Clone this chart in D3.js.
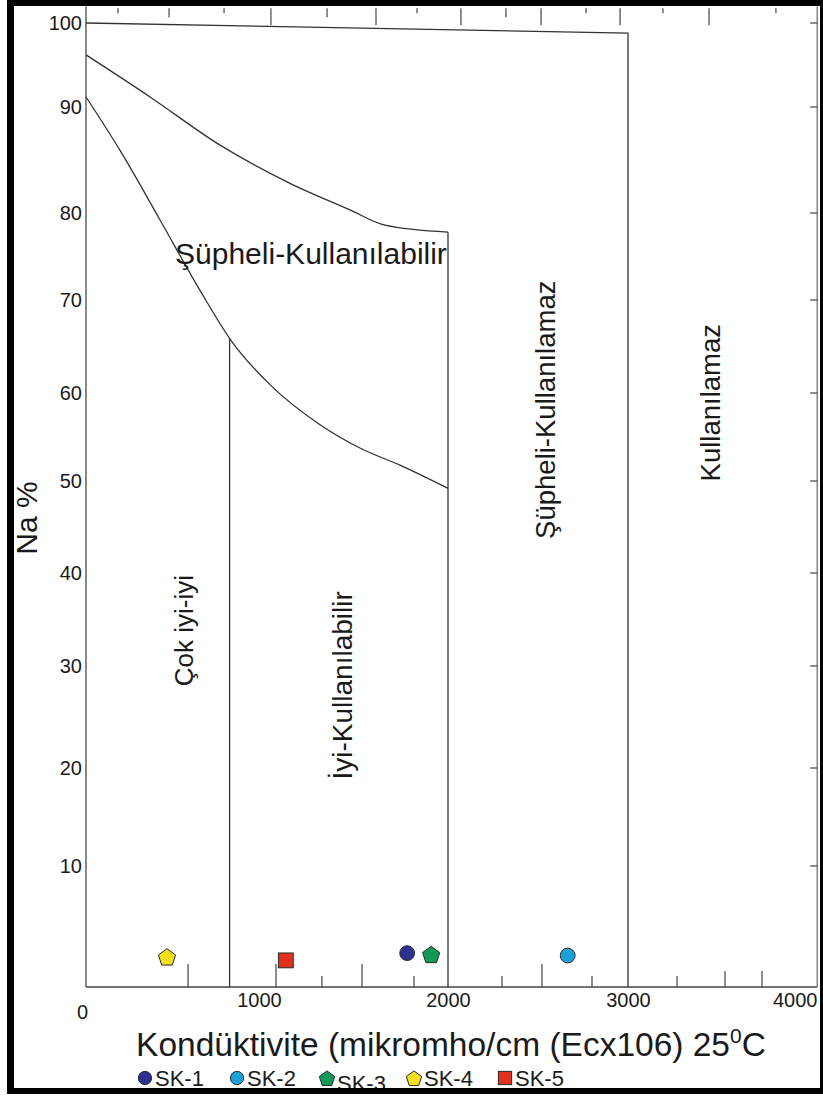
<!DOCTYPE html>
<html>
<head>
<meta charset="utf-8">
<script src="https://cdn.jsdelivr.net/npm/d3@7"></script>
<style>
  html, body { margin: 0; padding: 0; background: #fff; }
  svg { display: block; }
  text { font-family: "Liberation Sans", Arial, sans-serif; fill: #1a1a1a; }
</style>
</head>
<body>
<svg id="chart" width="823" height="1097"></svg>
<script>
// ---------------- DATA ----------------
const samples = ["SK-1", "SK-2", "SK-3", "SK-4", "SK-5"];
const conductivity = [1784, 2665, 1911, 468, 1142];   // mikromho/cm
const naPercent = [2.8, 2.6, 2.7, 2.5, 2.2];           // Na %
const sampleShapes = ["circle", "circle", "pentagon", "pentagon", "square"];
const sampleColors = ["#2e3192", "#1ba1d9", "#0f9a5a", "#f6e01c", "#e2301f"];

const xTickValues = [0, 1000, 2000, 3000, 4000];
const yTickValues = [10, 20, 30, 40, 50, 60, 70, 80, 90, 100];

// classification boundaries  [conductivity, Na%]
const topBoundary = [[0, 100], [3000, 98.8], [3000, 0]];
const upperCurve = [[0, 96.2], [370, 91.2], [775, 86.4], [1164, 82.8], [1481, 80.3], [1667, 78.6], [2000, 77.8]];
const line2000 = [[2000, 77.8], [2000, 0]];
const lowerCurve = [[0, 91.2], [197, 85.9], [428, 79.2], [659, 71.1], [844, 65.5], [1058, 60.9], [1323, 56.4], [1534, 53.75], [1746, 51.8], [2000, 49.2]];
const line830 = [[830, 65.9], [830, 0]];

// region labels
const regionNames = ["Şüpheli-Kullanılabilir", "Çok iyi-iyi", "İyi-Kullanılabilir", "Şüpheli-Kullanılamaz", "Kullanılamaz"];
const regionX = [1275, 618, 1492, 2594, 3535];
const regionY = [74.1, 33.8, 28.1, 58.1, 58.9];
const regionRotated = [false, true, true, true, true];

// minor ticks drawn on the frame (conductivity values)
const topTicksLong = [1063, 1619, 2072, 2517, 2956, 3471];
const topTicksMid = [480, 1360, 2322];
const topTicksShort = [185, 798, 1836, 2767, 3203, 3860];
const bottomTicksLong = [590, 1090, 1545, 2522];
const bottomTicksMid = [3564, 3779];
const bottomTicksShort = [1333, 1820, 2300, 2800, 3285];
const rightTicks = [10, 20, 30, 40, 50, 60, 70, 80, 90, 100];

const xTitle = "Kondüktivite (mikromho/cm (Ecx106) 25";
const yTitle = "Na %";

// ---------------- SCALES ----------------
const svg = d3.select("#chart");
svg.append("rect").attr("width", 823).attr("height", 1097).attr("fill", "#fff");

const x = d3.scaleLinear().domain([0, 1000, 2000, 3000, 4000]).range([86, 259, 448, 628, 800]);
const y = d3.scaleLinear().domain([0, 10, 20, 30, 40, 50, 60, 70, 80, 90, 100])
  .range([987, 866, 768, 666, 573, 481, 393, 300, 213, 107, 23]);

const plotL = x(0), plotR = x(4100), plotB = y(0), plotT = y(102);
const lineColor = "#333";
const FONT = "'Liberation Sans', Arial, sans-serif";

// frame of the plot
const g = svg.append("g");
g.append("line").attr("x1", plotL).attr("x2", plotL).attr("y1", plotT).attr("y2", plotB)
  .attr("stroke", "#555").attr("stroke-width", 1.4);
g.append("line").attr("x1", plotL).attr("x2", plotR).attr("y1", plotB).attr("y2", plotB)
  .attr("stroke", "#444").attr("stroke-width", 1.4);
g.append("line").attr("x1", plotR).attr("x2", plotR).attr("y1", plotT).attr("y2", plotB)
  .attr("stroke", "#666").attr("stroke-width", 1.2);

// ticks on frame
function topTicks(vals, len) {
  g.selectAll(null).data(vals).enter().append("line")
    .attr("x1", d => x(d)).attr("x2", d => x(d))
    .attr("y1", plotT + 2).attr("y2", plotT + 2 + len)
    .attr("stroke", "#444").attr("stroke-width", 1.2);
}
topTicks(topTicksLong, 17); topTicks(topTicksMid, 9); topTicks(topTicksShort, 5);
function bottomTicks(vals, len) {
  g.selectAll(null).data(vals).enter().append("line")
    .attr("x1", d => x(d)).attr("x2", d => x(d))
    .attr("y1", plotB).attr("y2", plotB - len)
    .attr("stroke", "#444").attr("stroke-width", 1.2);
}
bottomTicks(bottomTicksLong, 23); bottomTicks(bottomTicksMid, 16); bottomTicks(bottomTicksShort, 11);
g.selectAll(null).data(rightTicks).enter().append("line")
  .attr("x1", plotR).attr("x2", plotR - 7)
  .attr("y1", d => y(d)).attr("y2", d => y(d))
  .attr("stroke", "#444").attr("stroke-width", 1.2);

// boundaries
const straight = d3.line().x(d => x(d[0])).y(d => y(d[1]));
const smooth = d3.line().x(d => x(d[0])).y(d => y(d[1])).curve(d3.curveMonotoneX);
[[topBoundary, straight], [upperCurve, smooth], [line2000, straight], [lowerCurve, smooth], [line830, straight]]
  .forEach(([data, gen]) => {
    g.append("path").attr("d", gen(data)).attr("fill", "none")
      .attr("stroke", lineColor).attr("stroke-width", 1.3);
  });

// axes (labels only)
const yAxis = g.append("g").attr("transform", `translate(${plotL},0)`)
  .call(d3.axisLeft(y).tickValues(yTickValues).tickFormat(d3.format("d")).tickSize(0).tickPadding(4));
yAxis.select(".domain").remove();
yAxis.attr("font-family", null);
yAxis.selectAll("text").style("font-size", "20px").attr("fill", "#1a1a1a").style("font-family", FONT);

const xAxis = g.append("g").attr("transform", `translate(0,${plotB})`)
  .call(d3.axisBottom(x).tickValues(xTickValues).tickFormat(d3.format("d")).tickSize(0).tickPadding(6));
xAxis.select(".domain").remove();
xAxis.attr("font-family", null);
xAxis.selectAll("text").style("font-size", "20px").attr("fill", "#1a1a1a").style("font-family", FONT);
xAxis.selectAll(".tick").filter(d => d === 0).select("text").attr("x", -4).attr("y", 18);
xAxis.selectAll(".tick").filter(d => d === 4000).select("text").attr("text-anchor", "end").attr("x", 17);

// region labels
const regionFont = ["30px", "26px", "28px", "27.5px", "27.5px"];
regionNames.forEach((name, i) => {
  const t = g.append("text").text(name).attr("text-anchor", "middle")
    .style("font-size", regionFont[i]);
  if (regionRotated[i]) {
    t.attr("transform", `translate(${x(regionX[i])},${y(regionY[i])}) rotate(-90)`);
  } else {
    t.attr("x", x(regionX[i])).attr("y", y(regionY[i]));
  }
});

// markers
function pentagonPath(r) {
  const pts = d3.range(5).map(k => {
    const a = -Math.PI / 2 + k * 2 * Math.PI / 5;
    return [r * Math.cos(a), r * Math.sin(a)];
  });
  return "M" + pts.map(p => p.join(",")).join("L") + "Z";
}
function drawMarker(sel, shape, color, s) {
  let el;
  if (shape === "circle") el = sel.append("circle").attr("r", s * 0.78);
  else if (shape === "square") el = sel.append("rect").attr("x", -s * 0.78).attr("y", -s * 0.78)
    .attr("width", s * 1.56).attr("height", s * 1.56);
  else el = sel.append("path").attr("d", pentagonPath(s * 0.95)).attr("transform", "translate(0,1)");
  el.attr("fill", color).attr("stroke", "#2a2a2a").attr("stroke-width", 1);
}
samples.forEach((s, i) => {
  const m = g.append("g").attr("transform", `translate(${x(conductivity[i])},${y(naPercent[i])})`);
  drawMarker(m, sampleShapes[i], sampleColors[i], 9.5);
});

// axis titles
svg.append("text").text(yTitle).attr("text-anchor", "middle")
  .attr("transform", "translate(37,518) rotate(-90)").style("font-size", "30px");

const xt = svg.append("text").attr("x", 451).attr("y", 1056).attr("text-anchor", "middle")
  .style("font-size", "33.5px");
xt.append("tspan").text(xTitle);
xt.append("tspan").text("0").style("font-size", "21px").attr("dy", -13);
xt.append("tspan").text("C").attr("dy", 13);

// legend
const legendX = [145, 237, 327, 414, 505];
samples.forEach((s, i) => {
  const lg = svg.append("g").attr("transform", `translate(${legendX[i]},1078)`);
  drawMarker(lg, sampleShapes[i], sampleColors[i], 8.5);
  lg.append("text").text(s).attr("x", 10).attr("y", i === 2 ? 13 : 8).style("font-size", "22px");
});

// outer border
svg.append("rect").attr("x", 7).attr("y", 0).attr("width", 7).attr("height", 1094).attr("fill", "#000");
svg.append("rect").attr("x", 7).attr("y", 0).attr("width", 816).attr("height", 6).attr("fill", "#000");
svg.append("rect").attr("x", 7).attr("y", 1088).attr("width", 816).attr("height", 6).attr("fill", "#000");
svg.append("rect").attr("x", 820).attr("y", 0).attr("width", 3).attr("height", 1094).attr("fill", "#000");
</script>
</body>
</html>
